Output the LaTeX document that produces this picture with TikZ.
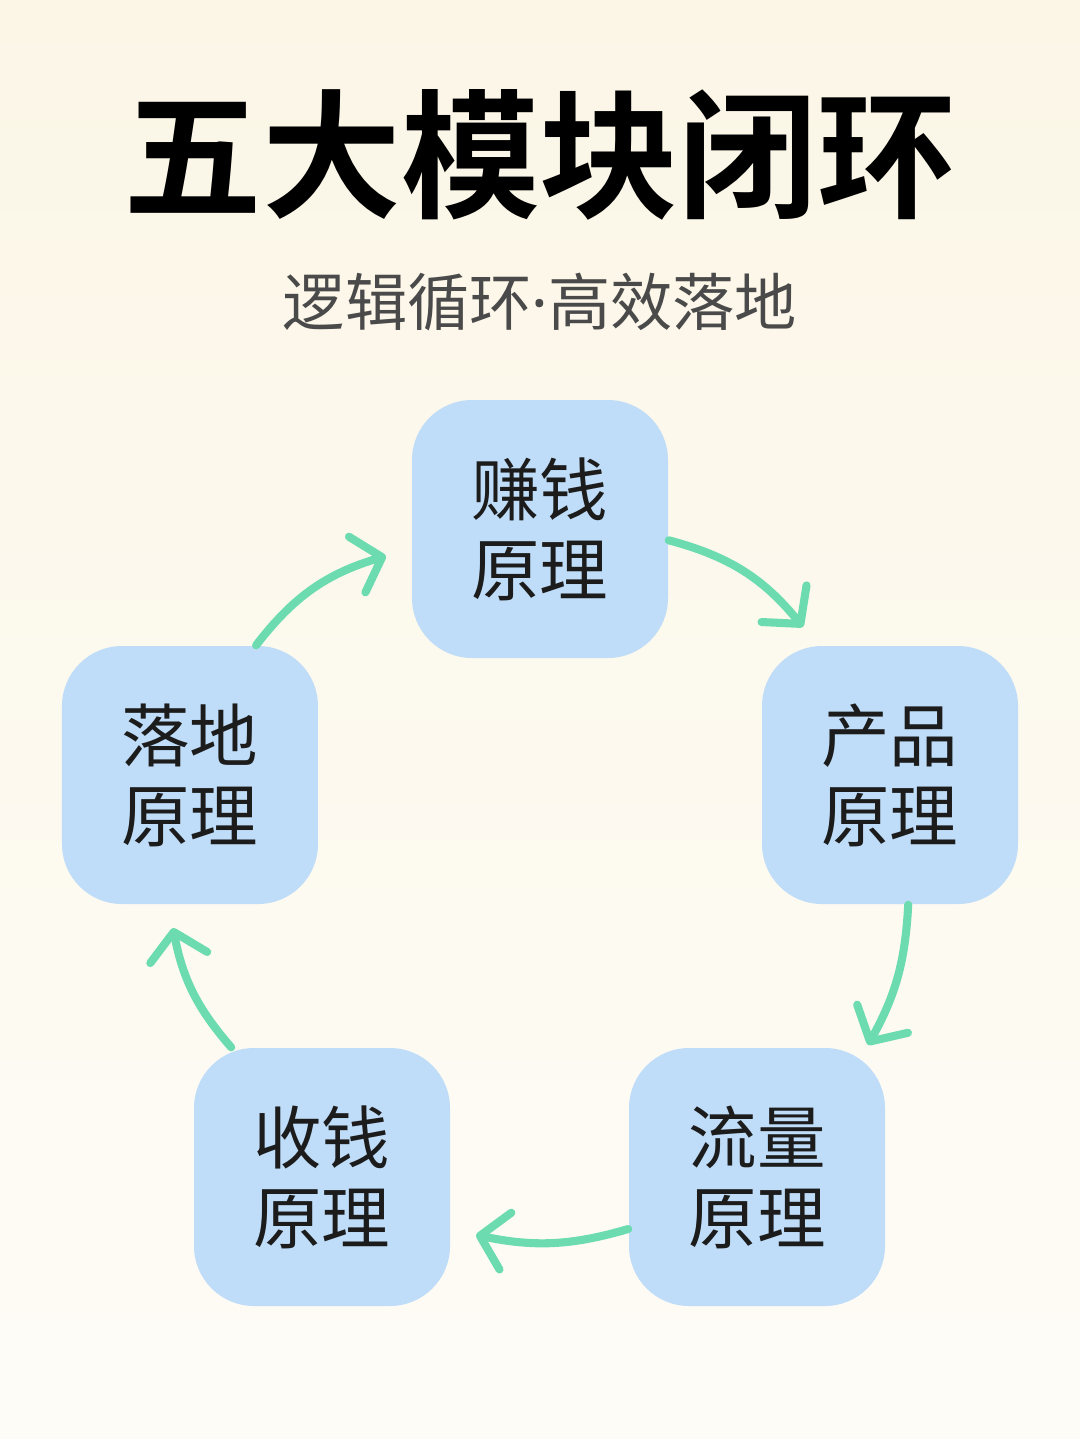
\documentclass[tikz,border=0pt]{standalone}
\usepackage{fontspec}
\usetikzlibrary{arrows.meta}
\newfontfamily\cjk{Noto Sans CJK SC}[BoldFont={Noto Sans CJK SC Bold}]
\newfontfamily\latin{Noto Sans}
\definecolor{boxblue}{HTML}{BFDDF8}
\definecolor{mint}{HTML}{6CDCB0}
\definecolor{ink}{HTML}{1C1C1C}
\definecolor{subgray}{HTML}{4A4A4A}
\definecolor{creamtop}{HTML}{FBF6E6}
\definecolor{creambot}{HTML}{FEFCF7}
\tikzset{
  box/.style={rectangle, rounded corners=0.6cm, minimum width=2.56cm,
    minimum height=2.58cm, inner sep=0pt, fill=boxblue, text=ink,
    align=center, font=\cjk\fontsize{19.5}{22.8}\selectfont},
  flow/.style={draw=mint, line width=2.3pt, line cap=round,
    -{Straight Barb[round,length=2.6mm,width=5.8mm]}}
}
\begin{document}
\begin{tikzpicture}
                    % Background
                    \shade [top color=creamtop, bottom color=creambot] (0.000000,0.000000) rectangle (10.800000,-14.390000);%
                    \useasboundingbox (0.000000,0.000000) rectangle (10.800000,-14.390000);%

                    % Title and subtitle
                    \node (title) at (5.400000,-1.550000) [font=\cjk\bfseries\fontsize{39.5}{44}\selectfont, text=black] {五大模块闭环};%
                    \node (subtitle) at (5.400000,-3.020000) [font=\cjk\fontsize{17.7}{20}\selectfont, text=subgray] {逻辑循环{\latin ·}高效落地};%

                    % Marking box earn
                    \node (earn) at (5.400000,-5.290000) [box] {赚钱\\原理};%

                    % Marking box product
                    \node (product) at (8.900000,-7.750000) [box] {产品\\原理};%

                    % Marking box traffic
                    \node (traffic) at (7.570000,-11.770000) [box] {流量\\原理};%

                    % Marking box collect
                    \node (collect) at (3.220000,-11.770000) [box] {收钱\\原理};%

                    % Marking box land
                    \node (land) at (1.900000,-7.750000) [box] {落地\\原理};%

                    % Arrow tips
                    \coordinate (t1) at (8.030000,-6.270000);%
                    \coordinate (t2) at (8.680000,-10.450000);%
                    \coordinate (t3) at (4.760000,-12.350000);%
                    \coordinate (t4) at (1.730000,-9.280000);%
                    \coordinate (t5) at (3.860000,-5.560000);%

                    % Drawing arrow earn product
                    \draw [flow] (earn.-5) to [bend left=18] (t1);%

                    % Drawing arrow product traffic
                    \draw [flow] (product.-82) to [bend left=13] (t2);%

                    % Drawing arrow traffic collect
                    \draw [flow] (traffic.202) to [bend left=14] (t3);%

                    % Drawing arrow collect land
                    \draw [flow] (collect.125) to [bend left=15] (t4);%

                    % Drawing arrow land earn
                    \draw [flow] (land.63) to [bend left=18] (t5);%
\end{tikzpicture}
\end{document}
